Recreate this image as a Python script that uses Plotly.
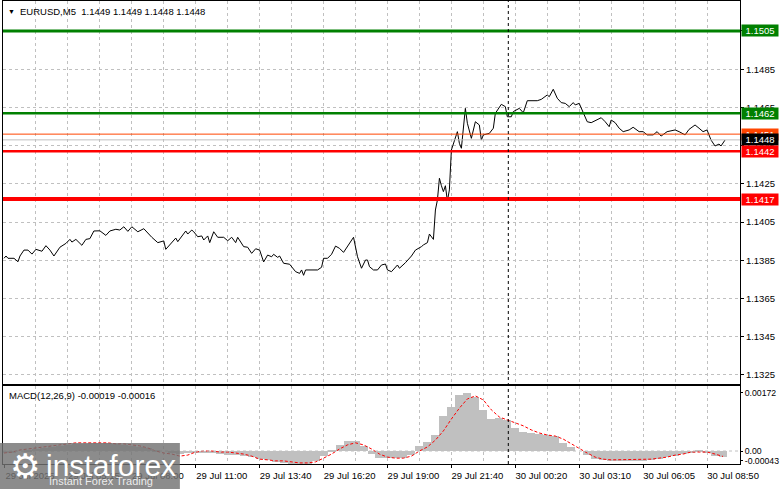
import plotly.graph_objects as go

# EURUSD M5 close prices (bar number -> price)
price_bars = [0, 1, 2, 5, 7, 8, 10, 12, 14, 16, 19, 21, 23, 25, 28, 31, 33, 34, 36, 39,
              41, 43, 45, 48, 51, 53, 56, 58, 60, 62, 64, 67, 70, 72, 74, 77, 80, 81, 83, 84,
              86, 87, 89, 91, 92, 94, 95, 97, 99, 100, 102, 103, 105, 107, 110, 112, 114, 116, 117, 119,
              120, 122, 124, 126, 128, 130, 132, 134, 135, 137, 138, 140, 143, 146, 148, 149, 150, 151, 157, 159,
              160, 162, 164, 166, 168, 170, 173, 175, 177, 179, 181, 182, 183, 185, 187, 189, 191, 192, 194, 197,
              198, 201, 204, 206, 209, 210, 212, 213, 215, 216, 217, 218, 219, 220, 221, 222, 223, 224, 227, 228,
              229, 231, 232, 234, 236, 238, 239, 240, 243, 245, 246, 249, 251, 252, 254, 255, 258, 260, 262, 267,
              269, 272, 273, 275, 277, 279, 281, 283, 285, 286, 288, 290, 292, 294, 296, 299, 301, 303, 304, 306,
              308, 310, 313, 315, 318, 320, 322, 325, 327, 329, 332, 336, 338, 341, 343, 346, 348, 350, 352, 354,
              356, 358, 359, 361]
price_close = [1.13860, 1.13872, 1.13860, 1.13860, 1.13842, 1.13872, 1.13903, 1.13903, 1.13882, 1.13907,
               1.13897, 1.13926, 1.13903, 1.13872, 1.13918, 1.13938, 1.13959, 1.13945, 1.13959, 1.13928,
               1.13959, 1.13963, 1.14003, 1.14004, 1.13980, 1.14003, 1.14012, 1.14008, 1.14025, 1.14001,
               1.14025, 1.13999, 1.14015, 1.13991, 1.13970, 1.13942, 1.13951, 1.13907, 1.13930, 1.13938,
               1.13966, 1.13947, 1.13977, 1.14003, 1.13987, 1.14008, 1.13999, 1.13973, 1.13977, 1.13956,
               1.13977, 1.13942, 1.13999, 1.13970, 1.13970, 1.13952, 1.13970, 1.13942, 1.13970, 1.13938,
               1.13921, 1.13918, 1.13886, 1.13910, 1.13903, 1.13841, 1.13877, 1.13868, 1.13881, 1.13865,
               1.13872, 1.13834, 1.13829, 1.13790, 1.13781, 1.13799, 1.13771, 1.13799, 1.13799, 1.13813,
               1.13860, 1.13860, 1.13881, 1.13924, 1.13912, 1.13891, 1.13938, 1.13970, 1.13868, 1.13808,
               1.13851, 1.13851, 1.13816, 1.13799, 1.13799, 1.13825, 1.13830, 1.13799, 1.13790, 1.13825,
               1.13808, 1.13837, 1.13872, 1.13903, 1.13921, 1.13930, 1.13942, 1.13987, 1.13959, 1.14113,
               1.14165, 1.14279, 1.14240, 1.14209, 1.14240, 1.14160, 1.14218, 1.14427, 1.14523, 1.14462,
               1.14436, 1.14645, 1.14567, 1.14488, 1.14575, 1.14558, 1.14479, 1.14506, 1.14514, 1.14541,
               1.14619, 1.14666, 1.14654, 1.14601, 1.14601, 1.14628, 1.14645, 1.14622, 1.14685, 1.14685,
               1.14692, 1.14715, 1.14706, 1.14745, 1.14698, 1.14675, 1.14671, 1.14654, 1.14675, 1.14663,
               1.14671, 1.14619, 1.14575, 1.14570, 1.14580, 1.14596, 1.14575, 1.14549, 1.14584, 1.14570,
               1.14541, 1.14523, 1.14532, 1.14546, 1.14523, 1.14523, 1.14506, 1.14506, 1.14523, 1.14500,
               1.14523, 1.14532, 1.14523, 1.14506, 1.14535, 1.14558, 1.14541, 1.14523, 1.14532, 1.14479,
               1.14448, 1.14458, 1.14448, 1.14479]

# MACD(12,26,9) read every 4 bars
macd_bars = [0, 4, 8, 12, 16, 20, 24, 28, 32, 36, 40, 44, 48, 52, 56, 60, 64, 68, 72, 76,
             80, 84, 88, 92, 96, 100, 104, 108, 112, 116, 120, 124, 128, 132, 136, 140, 144, 148, 152, 156,
             160, 164, 168, 172, 176, 180, 184, 188, 192, 196, 200, 204, 208, 212, 216, 220, 224, 228, 232, 236,
             240, 244, 248, 252, 256, 260, 264, 268, 272, 276, 280, 284, 288, 292, 296, 300, 304, 308, 312, 316,
             320, 324, 328, 332, 336, 340, 344, 348, 352, 356, 360]
macd_hist = [-0.00006, -0.00003, 0.0, 0.00003, 0.00006, 0.00009, 0.00012, 0.00015, 0.00018, 0.00021,
             0.00021, 0.00024, 0.00024, 0.00024, 0.00021, 0.00018, 0.00015, 0.00012, 0.00009, 0.00003,
             0.0, -0.00006, -0.00009, -0.00006, -0.00003, -0.00003, -0.00006, -0.00009, -0.00012, -0.00012,
             -0.00015, -0.00018, -0.00024, -0.00026, -0.00032, -0.00035, -0.00038, -0.00041, -0.00038, -0.00029,
             -0.00015, 0.00003, 0.00018, 0.00029, 0.00029, 0.00015, -0.00009, -0.00021, -0.00021, -0.00021,
             -0.00021, -0.00012, 0.00015, 0.00026, 0.00047, 0.00103, 0.00129, 0.00165, 0.00171, 0.00159,
             0.00121, 0.00094, 0.00097, 0.00091, 0.00068, 0.00056, 0.00053, 0.00050, 0.00047, 0.00044,
             0.00024, 0.00012, 0.0, -0.00012, -0.00024, -0.00026, -0.00029, -0.00029, -0.00029, -0.00029,
             -0.00029, -0.00026, -0.00024, -0.00018, -0.00015, -0.00009, -0.00003, 0.00003, -0.00003, -0.00015,
             -0.00019]
macd_signal = [-0.00006, -0.00003, 0.00003, 0.00006, 0.00009, 0.00012, 0.00015, 0.00018, 0.00021, 0.00024,
               0.00024, 0.00024, 0.00024, 0.00024, 0.00021, 0.00021, 0.00018, 0.00015, 0.00009, 0.0,
               -0.00006, -0.00009, -0.00015, -0.00012, -0.00003, 0.0, 0.0, -0.00003, -0.00003, -0.00006,
               -0.00009, -0.00015, -0.00024, -0.00026, -0.00029, -0.00029, -0.00032, -0.00035, -0.00035, -0.00032,
               -0.00021, -0.00009, 0.00006, 0.00018, 0.00024, 0.00018, 0.00006, -0.00009, -0.00018, -0.00021,
               -0.00021, -0.00015, 0.0, 0.00012, 0.00032, 0.00059, 0.00094, 0.00126, 0.00153, 0.00162,
               0.00150, 0.00121, 0.00100, 0.00091, 0.00082, 0.00074, 0.00062, 0.00053, 0.00047, 0.00044,
               0.00035, 0.00021, 0.00009, -0.00006, -0.00018, -0.00024, -0.00026, -0.00026, -0.00026, -0.00026,
               -0.00026, -0.00024, -0.00021, -0.00018, -0.00012, -0.00009, -0.00003, -0.00003, -0.00003, -0.00009,
               -0.00016]

# trade levels
green_levels = [1.1505, 1.1462]
red_levels = [1.1442, 1.1417]
ask_price = 1.1451
bid_price = 1.1448

time_ticks = [0, 32, 64, 96, 128, 160, 192, 224, 256, 288, 320, 352]
time_labels = ["29 Jul 2025", "29 Jul 05:15", "29 Jul 08:00", "29 Jul 11:00", "29 Jul 13:40",
               "29 Jul 16:20", "29 Jul 19:00", "29 Jul 21:40", "30 Jul 00:20", "30 Jul 03:10",
               "30 Jul 06:05", "30 Jul 08:50"]
day_break = 252.5
macd_ticks = [0.00172, 0.0, -0.00029]
macd_tick_labels = ["0.00172", "0.00", "-0.00043"]

FONT = "Liberation Sans, Arial, sans-serif"
GRID = "#c0c0c0"

fig = go.Figure()
fig.add_trace(go.Scatter(x=price_bars, y=price_close, mode="lines",
                         line=dict(color="black", width=1), xaxis="x", yaxis="y"))
fig.add_trace(go.Bar(x=macd_bars, y=macd_hist, width=4, marker=dict(color="#c0c0c0", line_width=0),
                     xaxis="x2", yaxis="y2"))
fig.add_trace(go.Scatter(x=macd_bars, y=macd_signal, mode="lines",
                         line=dict(color="red", width=1, dash="3px,2px"), xaxis="x2", yaxis="y2"))

xcommon = dict(range=[-0.5, 368.5], showline=True, linecolor="black", mirror=True,
               tickmode="array", tickvals=time_ticks, showgrid=True, gridcolor=GRID, griddash="3px,3px",
               minor=dict(tickmode="linear", tick0=0, dtick=16, showgrid=True, gridcolor=GRID,
                          griddash="3px,3px"),
               zeroline=False, fixedrange=True, automargin=False)

fig.update_layout(
    width=781, height=489,
    margin=dict(l=3, r=41, t=1, b=25, autoexpand=False),
    paper_bgcolor="white", plot_bgcolor="white",
    showlegend=False, bargap=0,
    font=dict(family=FONT, size=9, color="black"),
    xaxis=dict(xcommon, anchor="y", showticklabels=False, ticks=""),
    xaxis2=dict(xcommon, anchor="y2", matches="x", ticktext=time_labels, ticks="outside",
                ticklen=3, tickcolor="black", ticklabelshift=26,
                tickfont=dict(family=FONT, size=9.5, color="black")),
    yaxis=dict(domain=[0.1728, 1], range=[1.13202, 1.15207], side="right", anchor="x",
               showline=True, linecolor="black", mirror=True, ticks="outside", ticklen=3,
               tickcolor="black", tick0=1.1325, dtick=0.002, tickformat=".4f",
               showgrid=True, gridcolor=GRID, griddash="3px,3px", zeroline=False, automargin=False,
               tickfont=dict(family=FONT, size=9.5, color="black")),
    yaxis2=dict(domain=[0, 0.1685], range=[-0.000382, 0.001911], side="right", anchor="x2",
                showline=True, linecolor="black", mirror=True, ticks="outside", ticklen=2,
                tickcolor="black", tickmode="array", tickvals=macd_ticks, ticktext=macd_tick_labels,
                showgrid=False, zeroline=False, automargin=False,
                tickfont=dict(family=FONT, size=8.7, color="black")),
)

# MACD zero level
fig.add_shape(type="line", xref="x2 domain", yref="y2", x0=0, x1=1, y0=0, y1=0,
              line=dict(color=GRID, width=1, dash="3px,3px"))

# level lines
for lvl, w in zip(green_levels, [3, 2.5]):
    fig.add_shape(type="line", xref="x domain", yref="y", x0=0, x1=1, y0=lvl, y1=lvl,
                  line=dict(color="#008000", width=w))
for lvl, w in zip(red_levels, [2.5, 4]):
    fig.add_shape(type="line", xref="x domain", yref="y", x0=0, x1=1, y0=lvl, y1=lvl,
                  line=dict(color="#ff0000", width=w))
fig.add_shape(type="line", xref="x domain", yref="y", x0=0, x1=1, y0=ask_price, y1=ask_price,
              line=dict(color="#ff4500", width=1))
fig.add_shape(type="line", xref="x domain", yref="y", x0=0, x1=1, y0=bid_price, y1=bid_price,
              line=dict(color="#c0c0c0", width=1))

# day separator
fig.add_shape(type="line", xref="x", yref="paper", x0=day_break, x1=day_break, y0=0, y1=1,
              line=dict(color="black", width=1, dash="3px,3px"))

# price tags on the right scale
tags = [(g, "#008000") for g in green_levels] + [(ask_price, "#ff4500"), (bid_price, "black")] + \
       [(r, "#ff0000") for r in red_levels]
for val, col in tags:
    fig.add_annotation(xref="paper", yref="y", x=1, y=val, text=f"{val:.4f}", showarrow=False,
                       xanchor="left", yanchor="middle", xshift=1, bgcolor=col, width=34, height=9,
                       borderpad=1, font=dict(family=FONT, size=9.5, color="white"))

# headers
fig.add_annotation(xref="paper", yref="paper", x=0.004, y=0.978, text="▼", showarrow=False,
                   xanchor="left", yanchor="middle", font=dict(size=7, color="black"))
fig.add_annotation(xref="paper", yref="paper", x=0.0204, y=0.978,
                   text="EURUSD,M5  1.1449 1.1449 1.1448 1.1448", showarrow=False,
                   xanchor="left", yanchor="middle", font=dict(family=FONT, size=9.5, color="black"))
fig.add_annotation(xref="paper", yref="paper", x=0.0054, y=0.149,
                   text="MACD(12,26,9) -0.00019 -0.00016", showarrow=False,
                   xanchor="left", yanchor="middle", font=dict(family=FONT, size=9.5, color="black"))

# instaforex watermark
fig.add_shape(type="rect", xref="paper", yref="paper", x0=-0.005, x1=0.24, y0=-0.06, y1=0.0454,
              fillcolor="rgba(115,115,115,0.82)", line_width=0, layer="above")
fig.add_annotation(xref="paper", yref="paper", x=0.03, y=-0.004, text="⚙", showarrow=False,
                   xanchor="center", yanchor="middle", font=dict(family="DejaVu Sans", size=34, color="white"))
fig.add_annotation(xref="paper", yref="paper", x=0.055, y=-0.004, text="instaforex", showarrow=False,
                   xanchor="left", yanchor="middle", font=dict(family=FONT, size=30, color="white"))
fig.add_annotation(xref="paper", yref="paper", x=0.06, y=-0.037, text="Instant Forex Trading",
                   showarrow=False, xanchor="left", yanchor="middle",
                   font=dict(family=FONT, size=11, color="rgba(255,255,255,0.85)"))

# the page body has a default 8px margin; drop it so the figure fills the window
fig.write_html("out.html", config={"displayModeBar": False},
               post_script="document.body.style.margin = '0px';")
